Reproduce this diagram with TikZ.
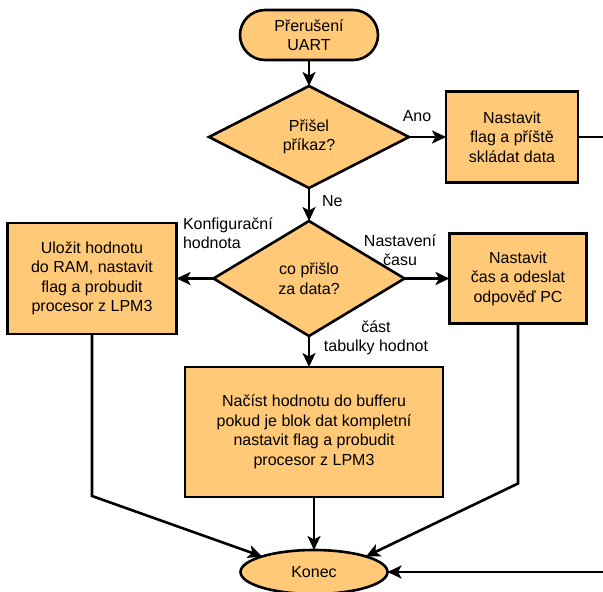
\documentclass[tikz,border=0pt]{standalone}
\usepackage{fontspec}
\setmainfont{Liberation Sans}
\usetikzlibrary{positioning,arrows.meta,shapes.geometric}
\definecolor{boxfill}{RGB}{255,201,120}

\begin{document}
\begin{tikzpicture}[x=1pt, y=-1pt, >={Stealth[length=14pt,width=13pt,inset=3.5pt]}, line width=2.6pt,
    font=\fontsize{16}{19.5}\selectfont, every node/.style={outer sep=0pt},
    box/.style={draw, fill=boxfill, align=center},
    dec/.style={draw, fill=boxfill, diamond, inner sep=0pt, align=center},
    lbl/.style={align=left, inner sep=0pt}]
    \useasboundingbox (0,0) rectangle (603,592);
    \node[box, rounded corners=25pt, minimum width=138pt, minimum height=50pt] (st) at (309,35) {Přerušení\\UART};
    \node[dec, below=26pt of st, minimum width=200pt, minimum height=102pt] (q1) {Přišel\\příkaz?};
    \node[box, right=37pt of q1, minimum width=132pt, minimum height=91pt] (flg) {Nastavit\\flag a příště\\skládat data};
    \node[dec, below=33pt of q1, minimum width=191pt, minimum height=115pt] (q2) {co přišlo\\za data?};
    \node[box, left=37pt of q2, minimum width=169pt, minimum height=111pt] (ulo) {Uložit hodnotu\\do RAM, nastavit\\flag a probudit\\procesor z LPM3};
    \node[box, right=45pt of q2, minimum width=137pt, minimum height=90pt] (cas) {Nastavit\\čas a odeslat\\odpověď PC};
    \node[box, below=31pt of q2, xshift=5pt, minimum width=258pt, minimum height=130pt] (nac) {Načíst hodnotu do bufferu\\pokud je blok dat kompletní\\nastavit flag a probudit\\procesor z LPM3};
    \node[draw, fill=boxfill, ellipse, below=53pt of nac, minimum width=147pt, minimum height=44pt] (kon) {Konec};
    \coordinate (edge) at (603,0);
    \coordinate (out1) at (flg.east -| edge);
    \coordinate (in1) at (kon.east -| edge);
    \node[lbl] (ano) at (417,116) {Ano};
    \node[lbl, anchor=west] (ne) at (322,201) {Ne};
    \node[lbl, anchor=west] (konf) at (183,233) {Konfigurační\\hodnota};
    \node[lbl, align=center] (nast) at (400,250) {Nastavení\\času};
    \node[lbl, align=center] (cast) at (376,338) {část\\tabulky hodnot};
    \draw[->] (st) -- (q1);
    \draw[->] (q1) -- (flg);
    \draw (flg) -- (out1);
    \draw[->] (q1) -- (q2);
    \draw[->] (q2) -- (ulo);
    \draw[->] (q2) -- (cas);
    \draw[->] (q2.south) -- (q2.south |- nac.north);
    \draw[->] (nac) -- (kon);
    \draw[->] (ulo.south) -- ++(0,162) -- (kon.north west);
    \draw[->] (cas.south) -- ++(0,160) -- (kon.north east);
    \draw[->] (in1) -- (kon);
\end{tikzpicture}
\end{document}
